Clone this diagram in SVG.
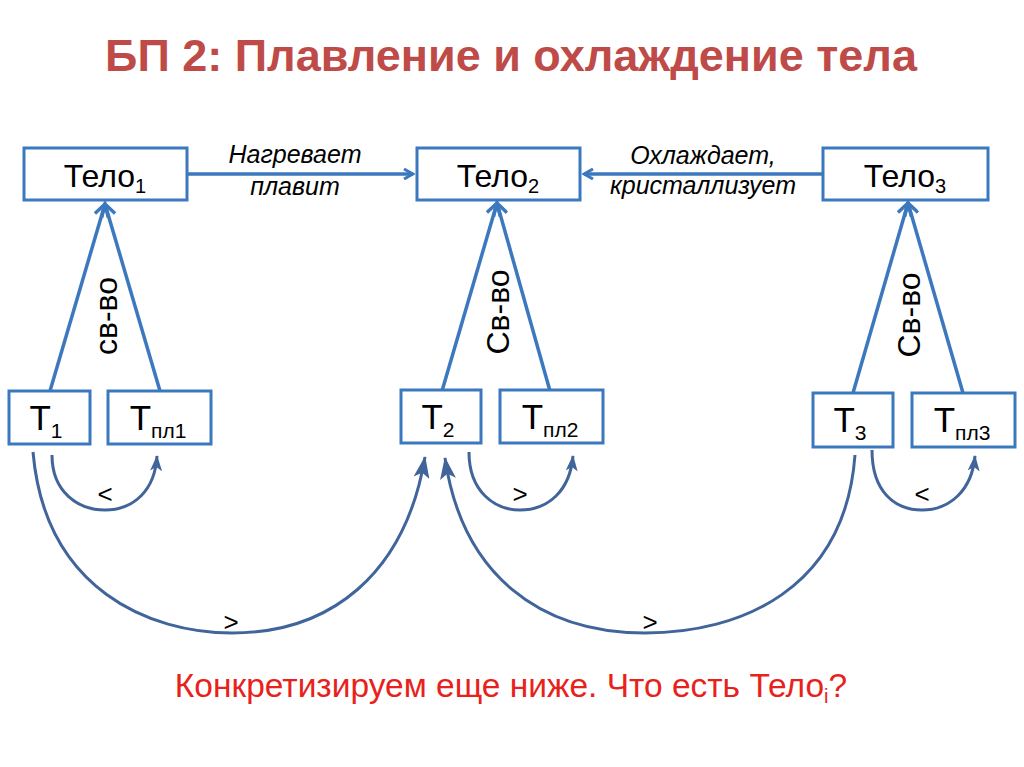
<svg xmlns="http://www.w3.org/2000/svg" width="1024" height="767" viewBox="0 0 1024 767">
<style>
text{font-family:"Liberation Sans",Arial,sans-serif;}
.box{fill:#fff;stroke:#3C78BE;stroke-width:3;}
.lt{fill:none;stroke:#3C78BE;stroke-width:3.5;}
.dk{fill:none;stroke:#41659A;stroke-width:3;}
.big{font-size:32px;fill:#000;}
.sub{font-size:20px;}
.tt{font-size:35px;fill:#000;}
.tsub{font-size:21px;}
.lbl{font-size:25px;font-style:italic;fill:#000;}
.cmp{font-size:26px;fill:#000;}
</style>
<defs>
<marker id="chev" viewBox="0 0 12 12" refX="10" refY="6" markerWidth="12" markerHeight="12" markerUnits="userSpaceOnUse" orient="auto">
<path d="M1,1 L10,6 L1,11" fill="none" stroke="#3C78BE" stroke-width="3"/>
</marker>
<marker id="chevB" viewBox="0 0 16 16" refX="13" refY="8" markerWidth="16" markerHeight="16" markerUnits="userSpaceOnUse" orient="auto">
<path d="M1,1 L13,8 L1,15" fill="none" stroke="#3C78BE" stroke-width="3.5"/>
</marker>
<marker id="tri" viewBox="0 0 16 12" refX="15" refY="6" markerWidth="16" markerHeight="12" markerUnits="userSpaceOnUse" orient="auto">
<path d="M0,0 L16,6 L0,12 L4,6 Z" fill="#41659A"/>
</marker>
<marker id="triB" viewBox="0 0 22 16" refX="21" refY="8" markerWidth="22" markerHeight="16" markerUnits="userSpaceOnUse" orient="auto">
<path d="M0,0 L22,8 L0,16 L5,8 Z" fill="#41659A"/>
</marker>
</defs>
<rect width="1024" height="767" fill="#fff"/>
<text x="511" y="71" text-anchor="middle" font-size="45" font-weight="bold" fill="#BE4B48">БП 2: Плавление и охлаждение тела</text>

<g id="connectors">
<line class="lt" x1="187" y1="174" x2="413" y2="174" marker-end="url(#chev)"/>
<line class="lt" x1="822" y1="174" x2="584" y2="174" marker-end="url(#chev)"/>
<line class="lt" x1="50" y1="391" x2="105" y2="204" marker-end="url(#chevB)"/>
<line class="lt" x1="160" y1="391" x2="105" y2="204" marker-end="url(#chevB)"/>
<line class="lt" x1="442" y1="391" x2="497" y2="203" marker-end="url(#chevB)"/>
<line class="lt" x1="550" y1="391" x2="497" y2="203" marker-end="url(#chevB)"/>
<line class="lt" x1="853" y1="393" x2="908" y2="203" marker-end="url(#chevB)"/>
<line class="lt" x1="963" y1="393" x2="908" y2="203" marker-end="url(#chevB)"/>
<path class="dk" d="M52,455 C52,492 78,510 105,510 C134,510 155,490 157,456" marker-end="url(#tri)"/>
<path class="dk" d="M469,452 C469,492 495,510 520,510 C549,510 570,490 573,456" marker-end="url(#tri)"/>
<path class="dk" d="M872,450 C872,492 895,510 922,510 C950,510 972,490 975,456" marker-end="url(#tri)"/>
<path class="dk" d="M33,452 C45,590 150,633 232,633 C330,633 405,575 425,457" marker-end="url(#triB)"/>
<path class="dk" d="M855,455 C845,590 740,633 645,633 C540,633 462,575 445,458" marker-end="url(#triB)"/>
</g>

<text class="lbl" x="295" y="163" text-anchor="middle">Нагревает</text>
<text class="lbl" x="295" y="195" text-anchor="middle">плавит</text>
<text class="lbl" x="703" y="164" text-anchor="middle">Охлаждает,</text>
<text class="lbl" x="703" y="194" text-anchor="middle">кристаллизует</text>

<text class="big" transform="translate(117,316) rotate(-90)" text-anchor="middle">св-во</text>
<text class="big" transform="translate(509,312) rotate(-90)" text-anchor="middle">Св-во</text>
<text class="big" transform="translate(920,315) rotate(-90)" text-anchor="middle">Св-во</text>

<text class="cmp" x="105" y="503" text-anchor="middle">&lt;</text>
<text class="cmp" x="520" y="503" text-anchor="middle">&gt;</text>
<text class="cmp" x="922" y="503" text-anchor="middle">&lt;</text>
<text class="cmp" x="231" y="631" text-anchor="middle">&gt;</text>
<text class="cmp" x="650" y="631" text-anchor="middle">&gt;</text>

<g id="telo1"><rect class="box" x="24" y="148" width="163" height="52"/><text class="big" x="105" y="187" text-anchor="middle">Тело<tspan class="sub" dy="6">1</tspan></text></g>
<g id="telo2"><rect class="box" x="417" y="148" width="163" height="52"/><text class="big" x="498" y="187" text-anchor="middle">Тело<tspan class="sub" dy="6">2</tspan></text></g>
<g id="telo3"><rect class="box" x="823" y="148" width="165" height="52"/><text class="big" x="905" y="187" text-anchor="middle">Тело<tspan class="sub" dy="6">3</tspan></text></g>

<g id="t1"><rect class="box" x="9" y="391" width="81" height="53"/><text class="tt" x="46" y="430" text-anchor="middle">T<tspan class="tsub" dy="8">1</tspan></text></g>
<g id="tpl1"><rect class="box" x="108" y="391" width="103" height="53"/><text class="tt" x="158" y="430" text-anchor="middle">T<tspan class="tsub" dy="8">пл1</tspan></text></g>
<g id="t2"><rect class="box" x="401" y="390" width="80" height="53"/><text class="tt" x="438" y="429" text-anchor="middle">T<tspan class="tsub" dy="8">2</tspan></text></g>
<g id="tpl2"><rect class="box" x="500" y="390" width="103" height="53"/><text class="tt" x="550" y="429" text-anchor="middle">T<tspan class="tsub" dy="8">пл2</tspan></text></g>
<g id="t3"><rect class="box" x="813" y="393" width="80" height="54"/><text class="tt" x="850" y="432" text-anchor="middle">T<tspan class="tsub" dy="8">3</tspan></text></g>
<g id="tpl3"><rect class="box" x="912" y="393" width="103" height="54"/><text class="tt" x="962" y="432" text-anchor="middle">T<tspan class="tsub" dy="8">пл3</tspan></text></g>

<text x="511" y="697" text-anchor="middle" font-size="33.5" fill="#E8221B">Конкретизируем еще ниже. Что есть Тело<tspan font-size="20" dy="6">i</tspan><tspan dy="-6">?</tspan></text>
</svg>
